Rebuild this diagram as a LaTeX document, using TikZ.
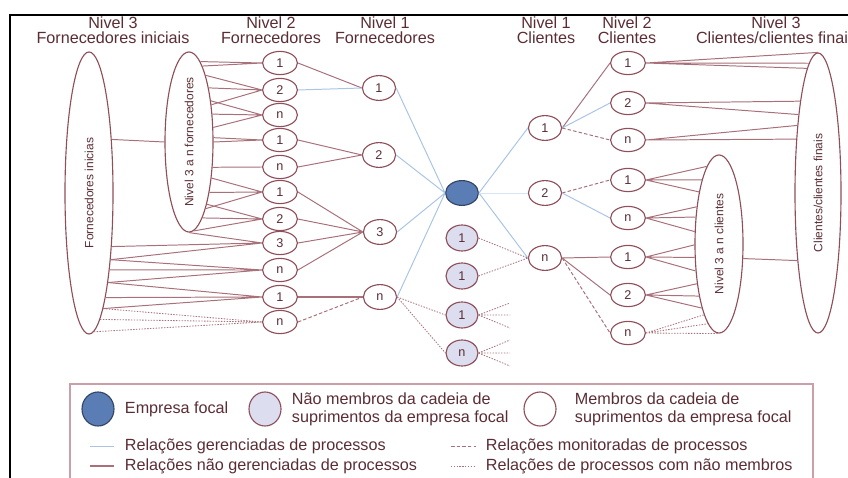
\documentclass[tikz,border=0pt]{standalone}
\usepackage{fontspec}
\setmainfont{Liberation Sans}
\usepackage{tikz}
\usetikzlibrary{shapes.geometric}
\definecolor{brn}{HTML}{A8707A}
\definecolor{brnd}{HTML}{8E4F5A}
\definecolor{txt}{HTML}{5A2D35}
\definecolor{mgd}{HTML}{A9C4E4}
\definecolor{focblue}{HTML}{5B7DB5}
\definecolor{lav}{HTML}{DDDDF0}
\definecolor{lgd}{HTML}{C9A0A8}
\tikzset{
  member/.style={ellipse, draw=brnd, fill=white, line width=0.8pt, minimum width=0.87cm, minimum height=0.58cm, inner sep=0pt, text=txt, font=\fontsize{9}{9}\selectfont},
  nonmember/.style={member, fill=lav, minimum width=0.8cm, minimum height=0.65cm},
  focal/.style={member, fill=focblue, draw=focblue!55!black, minimum width=0.82cm, minimum height=0.62cm},
  tier/.style={ellipse, draw=brnd, line width=0.8pt, inner sep=0pt},
  tiertext/.style={rotate=90, text=txt, font=\fontsize{8.5}{9}\selectfont},
  levelhead/.style={align=center, text=txt, font=\fontsize{11.5}{10.5}\selectfont},
  legtext/.style={align=left, anchor=west, text=txt, font=\fontsize{11.5}{12.8}\selectfont},
  managed/.style={mgd, line width=0.7pt},
  unmanaged/.style={brn, line width=0.7pt},
  monitored/.style={brn, line width=0.7pt, dash pattern=on 2.5pt off 1.5pt},
  nonmemrel/.style={brn, line width=0.6pt, dash pattern=on 1pt off 1pt}
}

\begin{document}
\begin{tikzpicture}[x=0.025cm,y=-0.025cm]
  \useasboundingbox (0,0) rectangle (848,478);
  \draw[line width=1.5pt] (10,478) |- (848,15);

  % level headings
  \node[levelhead] (h3f) at (113,30) {Nivel 3\\Fornecedores iniciais};
  \node[levelhead] (h2f) at (271,30) {Nivel 2\\Fornecedores};
  \node[levelhead] (h1f) at (385,30) {Nivel 1\\Fornecedores};
  \node[levelhead] (h1c) at (546,30) {Nivel 1\\Clientes};
  \node[levelhead] (h2c) at (627,30) {Nivel 2\\Clientes};
  \node[levelhead] (h3c) at (776,30) {Nivel 3\\Clientes/clientes finais};

  % supplier side
  \node[tier, minimum width=1.2cm, minimum height=7.05cm] (supB) at (89,193) {};
  \node[tiertext] (supBt) at (supB) {Fornecedores inicias};
  \node[tier, minimum width=1.2cm, minimum height=4.5cm] (supA) at (189,142) {};
  \node[tiertext] (supAt) at (supA) {Nivel 3 a n fornecedores};

  \node[member] (a1) at (280,63) {1};
  \node[member] (a2) at (280,90) {2};
  \node[member] (a3) at (280,115) {n};
  \node[member] (a4) at (280,140) {1};
  \node[member] (a5) at (280,167) {n};
  \node[member] (a6) at (280,192) {1};
  \node[member] (a7) at (280,219) {2};
  \node[member] (a8) at (280,243) {3};
  \node[member] (a9) at (280,270) {n};
  \node[member] (a10) at (280,297) {1};
  \node[member] (a11) at (280,322) {n};

  \node[member, minimum width=0.83cm, minimum height=0.62cm] (s1) at (379,88) {1};
  \node[member, minimum width=0.83cm, minimum height=0.62cm] (s2) at (379,155) {2};
  \node[member, minimum width=0.83cm, minimum height=0.62cm] (s3) at (380,232) {3};
  \node[member, minimum width=0.83cm, minimum height=0.62cm] (sn) at (380,297) {n};

  % focal firm and non members
  \node[focal] (foc) at (462,193) {};
  \node[nonmember] (m1) at (462,238) {1};
  \node[nonmember] (m2) at (462,276) {1};
  \node[nonmember] (m3) at (462,315) {1};
  \node[nonmember] (m4) at (462,353) {n};
  \coordinate (m3a) at (510,303);
  \coordinate (m3b) at (510,315);
  \coordinate (m3c) at (510,328);
  \coordinate (m4a) at (510,340);
  \coordinate (m4b) at (510,353);
  \coordinate (m4c) at (510,366);

  % customer side
  \node[member, minimum width=0.83cm, minimum height=0.62cm] (k1) at (545,128) {1};
  \node[member, minimum width=0.83cm, minimum height=0.62cm] (k2) at (545,193) {2};
  \node[member, minimum width=0.83cm, minimum height=0.62cm] (kn) at (545,258) {n};

  \node[member] (c1) at (628,63) {1};
  \node[member] (c2) at (628,103) {2};
  \node[member] (c3) at (628,140) {n};
  \node[member] (c4) at (628,180) {1};
  \node[member] (c5) at (628,218) {n};
  \node[member] (c6) at (628,257) {1};
  \node[member] (c7) at (628,295) {2};
  \node[member] (c8) at (628,333) {n};

  \node[tier, minimum width=1.2cm, minimum height=4.45cm] (cliA) at (719,244) {};
  \node[tiertext] (cliAt) at (cliA) {Nivel 3 a n clientes};
  \node[tier, minimum width=1.15cm, minimum height=7.0cm] (cliB) at (818,193) {};
  \node[tiertext] (cliBt) at (cliB) {Clientes/clientes finais};

  % tier 3 to tier 2 suppliers
  \draw[unmanaged] (supB.67) -- (supA.west);
  \draw[unmanaged] (supA.82) -- (a1.west) (supA.80) -- (a1.west);
  \draw[unmanaged] (supA.76) -- (a2.west) (supA.70) -- (a2.west) (supA.59) -- (a2.west);
  \draw[unmanaged] (supA.62) -- (a3.west) (supA.50) -- (a3.west) (supA.31) -- (a3.west);
  \draw[unmanaged] (supA.10) -- (a4.west) (supA.0) -- (a4.west);
  \draw[unmanaged] (supA.-47) -- (a5.west);
  \draw[unmanaged] (supA.-58) -- (a6.west) (supA.-68) -- (a6.west) (supA.-76) -- (a6.west);
  \draw[unmanaged] (supA.-74) -- (a7.west) (supA.-80) -- (a7.west) (supA.-87) -- (a7.west);
  \draw[unmanaged] (supA.-90) -- (a8.west) (supB.-67) -- (a8.west) (supB.-72) -- (a8.west);
  \draw[unmanaged] (supB.-72) -- (a9.west) (supB.-75) -- (a9.west) (supB.-78) -- (a9.west);
  \draw[unmanaged] (supB.-78) -- (a10.west) (supB.-81) -- (a10.west) (supB.-83) -- (a10.west);
  \draw[nonmemrel] (supB.-83) -- (a11.west) (supB.-85) -- (a11.west) (supB.-88) -- (a11.west);

  % tier 2 to tier 1 suppliers
  \draw[unmanaged] (a1.east) -- (s1.west);
  \draw[managed] (a2.east) -- (s1.west);
  \draw[unmanaged] (a4.east) -- (s2.west) (a5.east) -- (s2.west);
  \draw[unmanaged] (a6.east) -- (s3.west) (a7.east) -- (s3.west) (a8.east) -- (s3.west) (a9.east) -- (s3.west);
  \draw[unmanaged, line width=1.2pt] (a10.east) -- (sn.west);
  \draw[monitored] (a11.east) -- (sn.west);

  % focal firm links
  \draw[managed] (s1.east) -- (foc.west) (s2.east) -- (foc.west) (s3.east) -- (foc.west) (sn.east) -- (foc.west);
  \draw[managed] (foc.east) -- (k1.west) (foc.east) -- (kn.west);
  \draw[managed, mgd!45] (foc.east) -- (k2.west);
  \draw[nonmemrel] (sn.east) -- (m3.west) (sn.east) -- (m4.west);
  \draw[nonmemrel] (m1.east) -- (kn.west) (m2.east) -- (kn.west);
  \draw[nonmemrel] (m3.east) -- (m3a) (m3.east) -- (m3b) (m3.east) -- (m3c);
  \draw[nonmemrel] (m4.east) -- (m4a) (m4.east) -- (m4b) (m4.east) -- (m4c);

  % tier 1 to tier 2 customers
  \draw[unmanaged] (k1.east) -- (c1.west);
  \draw[managed] (k1.east) -- (c2.west);
  \draw[monitored] (k1.east) -- (c3.west);
  \draw[monitored] (k2.east) -- (c4.west);
  \draw[managed] (k2.east) -- (c5.west);
  \draw[unmanaged] (kn.east) -- (c6.west) (kn.east) -- (c7.west);
  \draw[monitored] (kn.east) -- (c8.west);

  % tier 2 customers to tier 3
  \draw[unmanaged] (c1.east) -- (cliB.90) (c1.east) -- (cliB.94) (c1.east) -- (cliB.95);
  \draw[unmanaged] (c2.east) -- (cliB.101) (c2.east) -- (cliB.104);
  \draw[unmanaged] (c3.east) -- (cliB.107) (c3.east) -- (cliB.112);
  \draw[unmanaged] (c4.east) -- (cliA.99) (c4.east) -- (cliA.105) (c4.east) -- (cliA.111);
  \draw[unmanaged] (c5.east) -- (cliA.121) (c5.east) -- (cliA.131) (c5.east) -- (cliA.153);
  \draw[unmanaged] (c6.east) -- (cliA.182) (c6.east) -- (cliA.-151) (c6.east) -- (cliA.-131);
  \draw[unmanaged] (c7.east) -- (cliA.-119) (c7.east) -- (cliA.-111) (c7.east) -- (cliA.-105);
  \draw[nonmemrel] (c8.east) -- (cliA.-102) (c8.east) -- (cliA.-98) (c8.east) -- (cliA.-90);
  \draw[unmanaged] (cliA.-31) -- (cliB.-107);

  % legend
  \draw[lgd, line width=1.3pt] (70,478) |- (813,384) -- (813,478);
  \node[focal, minimum width=0.8cm, minimum height=0.85cm] (lfoc) at (98,409) {};
  \node[legtext] (lfoct) at (120,409) {Empresa focal};
  \node[nonmember, minimum width=0.8cm, minimum height=0.85cm] (lnon) at (265,409) {};
  \node[legtext] (lnont) at (287,409) {Não membros da cadeia de\\suprimentos da empresa focal};
  \node[member, minimum width=0.8cm, minimum height=0.85cm] (lmem) at (540,409) {};
  \node[legtext] (lmemt) at (570,409) {Membros da cadeia de\\suprimentos da empresa focal};

  \coordinate (lg1a) at (90,446);
  \coordinate (lg1b) at (114,446);
  \coordinate (lg2a) at (451,446);
  \coordinate (lg2b) at (476,446);
  \coordinate (lg3a) at (90,466);
  \coordinate (lg3b) at (114,466);
  \coordinate (lg4a) at (451,466);
  \coordinate (lg4b) at (476,466);
  \draw[managed] (lg1a) -- (lg1b);
  \node[legtext] (lg1t) at (120,446) {Relações gerenciadas de processos};
  \draw[monitored] (lg2a) -- (lg2b);
  \node[legtext] (lg2t) at (481,446) {Relações monitoradas de processos};
  \draw[unmanaged, line width=1.2pt] (lg3a) -- (lg3b);
  \node[legtext] (lg3t) at (120,466) {Relações não gerenciadas de processos};
  \draw[nonmemrel] (lg4a) -- (lg4b);
  \node[legtext] (lg4t) at (481,466) {Relações de processos com não membros};
\end{tikzpicture}
\end{document}
